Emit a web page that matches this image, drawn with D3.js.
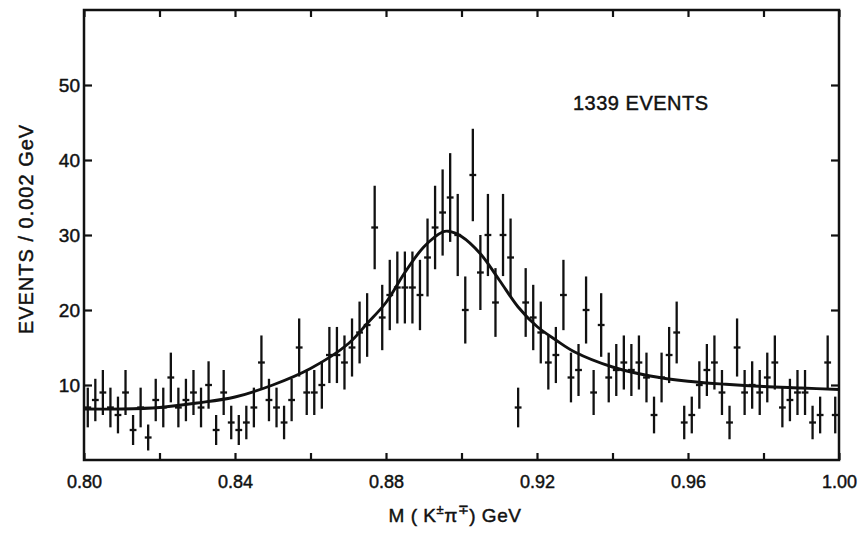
<!DOCTYPE html>
<html>
<head>
<meta charset="utf-8">
<script src="https://cdn.jsdelivr.net/npm/d3@7"></script>
<style>
  html, body { margin: 0; padding: 0; background: #fff; }
  svg { display: block; }
  text { font-family: "Liberation Sans", Arial, sans-serif; fill: #111; stroke: #111; stroke-width: 0.45px; }
</style>
</head>
<body>
<svg id="chart" width="860" height="533"></svg>
<script>
// ---- data ----
const massBins = [
  0.801,0.803,0.805,0.807,0.809,0.811,0.813,0.815,0.817,0.819,
  0.821,0.823,0.825,0.827,0.829,0.831,0.833,0.835,0.837,0.839,
  0.841,0.843,0.845,0.847,0.849,0.851,0.853,0.855,0.857,0.859,
  0.861,0.863,0.865,0.867,0.869,0.871,0.873,0.875,0.877,0.879,
  0.881,0.883,0.885,0.887,0.889,0.891,0.893,0.895,0.897,0.899,
  0.901,0.903,0.905,0.907,0.909,0.911,0.913,0.915,0.917,0.919,
  0.921,0.923,0.925,0.927,0.929,0.931,0.933,0.935,0.937,0.939,
  0.941,0.943,0.945,0.947,0.949,0.951,0.953,0.955,0.957,0.959,
  0.961,0.963,0.965,0.967,0.969,0.971,0.973,0.975,0.977,0.979,
  0.981,0.983,0.985,0.987,0.989,0.991,0.993,0.995,0.997,0.999
];
const eventCounts = [
  7,8,9,7,6,9,4,7,3,8,
  7,11,7,8,9,7,10,4,9,5,
  4,5,7,13,8,7,5,8,15,9,
  9,10,14,14,13,15,17,18,31,19,
  22,23,23,23,22,27,31,33,35,30,
  20,38,25,30,21,30,27,7,21,19,
  17,13,14,22,11,12,20,9,18,11,
  12,13,12,13,11,6,11,14,17,5,
  6,10,12,13,9,5,15,9,10,9,
  11,13,7,8,9,9,5,6,13,6
];
// fitted curve
const fitMass = [0.800,0.810,0.820,0.830,0.840,0.850,0.860,0.870,0.875,0.880,0.885,0.890,0.895,0.8965,0.900,0.905,0.910,0.915,0.920,0.925,0.930,0.940,0.950,0.960,0.970,0.980,0.990,1.000];
const fitValue = [6.8,6.8,7.0,7.6,8.4,10.0,12.2,15.5,18.2,21.0,25.0,28.4,30.4,30.5,29.8,27.5,24.0,20.4,17.8,16.0,14.4,12.4,11.2,10.5,10.1,9.8,9.6,9.4];

const xTickValues = [0.80,0.82,0.84,0.86,0.88,0.90,0.92,0.94,0.96,0.98,1.00];
const xTickLabels = ["0.80","","0.84","","0.88","","0.92","","0.96","","1.00"];
const yTickValues = [10,20,30,40,50];
const yTickLabels = ["10","20","30","40","50"];
const binWidth = 0.002;
const annotation = "1339 EVENTS";

// ---- layout ----
const svg = d3.select("#chart");
const plotLeft = 84, plotRight = 839, plotTop = 10, plotBottom = 460;
const x = d3.scaleLinear().domain([0.80, 1.00]).range([plotLeft, plotRight]);
const y = d3.scaleLinear().domain([0, 60]).range([plotBottom, plotTop]);
const ink = "#111";

// frame
svg.append("rect")
  .attr("x", plotLeft).attr("y", plotTop)
  .attr("width", plotRight - plotLeft).attr("height", plotBottom - plotTop)
  .attr("fill", "none").attr("stroke", ink).attr("stroke-width", 2.5);

function styleAxis(g, fontSize) {
  g.select(".domain").remove();
  g.selectAll(".tick line").attr("stroke", ink).attr("stroke-width", 2.2);
  g.selectAll(".tick text").attr("fill", ink)
    .style("font-size", fontSize + "px")
    .style("font-family", "'Liberation Sans', Arial, sans-serif");
}

// bottom axis (inward ticks, labels every 0.04)
svg.append("g").attr("transform", `translate(0,${plotBottom})`)
  .call(d3.axisBottom(x).tickValues(xTickValues).tickSize(-7).tickPadding(15)
        .tickFormat((d, i) => xTickLabels[i]))
  .call(g => styleAxis(g, 18));
// top axis
svg.append("g").attr("transform", `translate(0,${plotTop})`)
  .call(d3.axisTop(x).tickValues(xTickValues).tickSize(-7).tickFormat(() => ""))
  .call(g => styleAxis(g, 18));
// left axis
svg.append("g").attr("transform", `translate(${plotLeft},0)`)
  .call(d3.axisLeft(y).tickValues(yTickValues).tickSize(-8).tickPadding(4)
        .tickFormat((d, i) => yTickLabels[i]))
  .call(g => styleAxis(g, 19));
// right axis
svg.append("g").attr("transform", `translate(${plotRight},0)`)
  .call(d3.axisRight(y).tickValues(yTickValues).tickSize(-8).tickFormat(() => ""))
  .call(g => styleAxis(g, 18));

// fit curve
const line = d3.line()
  .x((d, i) => x(fitMass[i]))
  .y((d, i) => y(fitValue[i]))
  .curve(d3.curveCatmullRom.alpha(0.5));
svg.append("path")
  .datum(fitValue)
  .attr("d", line)
  .attr("fill", "none").attr("stroke", ink).attr("stroke-width", 2.9);

// data points with Poisson error bars
const pts = svg.append("g").attr("stroke", ink).attr("stroke-width", 2.3);
const data = massBins.map((m, i) => ({ m, n: eventCounts[i], e: Math.sqrt(eventCounts[i]) }));
pts.selectAll("line.err").data(data).join("line").attr("class", "err")
  .attr("x1", d => x(d.m)).attr("x2", d => x(d.m))
  .attr("y1", d => y(d.n - d.e)).attr("y2", d => y(d.n + d.e));
pts.selectAll("line.bin").data(data).join("line").attr("class", "bin")
  .attr("x1", d => x(d.m - binWidth * 0.45)).attr("x2", d => x(d.m + binWidth * 0.45))
  .attr("y1", d => y(d.n)).attr("y2", d => y(d.n));

// annotation
svg.append("text").attr("x", 573).attr("y", 110)
  .style("font-size", "20px").attr("letter-spacing", "0.5")
  .text(annotation);

// axis titles
svg.append("text")
  .attr("transform", "translate(33,229) rotate(-90)")
  .attr("text-anchor", "middle")
  .style("font-size", "20px").attr("letter-spacing", "1")
  .text("EVENTS / 0.002 GeV");

const xt = svg.append("text").attr("x", 455).attr("y", 522)
  .attr("text-anchor", "middle").style("font-size", "19px").attr("letter-spacing", "0.5");
xt.append("tspan").text("M ( K");
xt.append("tspan").attr("dy", -8).style("font-size", "13px").text("±");
xt.append("tspan").attr("dy", 8).text("π");
xt.append("tspan").attr("dy", -8).style("font-size", "13px").text("∓");
xt.append("tspan").attr("dy", 8).text(")  GeV");
</script>
</body>
</html>
